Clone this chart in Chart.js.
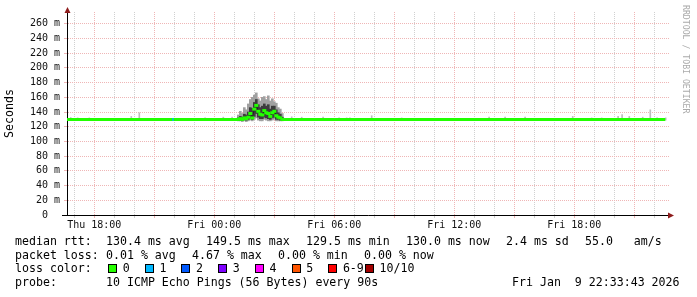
<!DOCTYPE html>
<html>
<head>
<meta charset="utf-8">
<script src="https://cdn.jsdelivr.net/npm/chart.js@4.4.1/dist/chart.umd.min.js"></script>
<style>
  html, body { margin: 0; padding: 0; background: #fff; }
  #wrap { position: relative; width: 697px; height: 297px; overflow: hidden; background: #fff; }
  #chart { position: absolute; left: 0; top: 0; }
  .txt {
    position: absolute;
    font-family: 'DejaVu Sans Mono', monospace;
    font-size: 11.6px;
    line-height: 14px;
    white-space: pre;
    color: #000;
  }
  .box { position: absolute; width: 7px; height: 7px; border: 1px solid #000; }
  #credit {
    position: absolute;
    left: 681px;
    top: 5px;
    writing-mode: vertical-rl;
    font-family: 'DejaVu Sans Mono', monospace;
    font-size: 8.2px;
    line-height: 10px;
    color: #aaa;
    white-space: pre;
  }
</style>
</head>
<body>
<div id="wrap">
  <canvas id="chart" width="697" height="297"></canvas>
  <div id="credit">RRDTOOL / TOBI OETIKER</div>
  <div id="legend"></div>
</div>
<script>
// hours counted from Thu 00:00
const dayNames = ['Thu', 'Fri'];
const hourMin = 16.635;
const hourMax = 46.735;

const baselineMs = 130;
const medianEdges = [16.635, 25.15, 27.45, 46.55];

const spikeHours = [25.2, 25.3, 25.4, 25.5, 25.6, 25.7, 25.8, 25.9, 26.0, 26.1, 26.2, 26.3,
                    26.4, 26.5, 26.6, 26.7, 26.8, 26.9, 27.0, 27.1, 27.2, 27.3, 27.4];
const spikeMedian = [130, 131, 130, 132, 131, 133, 138, 132, 144, 149, 141, 137,
                     136, 142, 139, 138, 134, 139, 141, 135, 133, 132, 130];
const smokeLow  = [128, 128, 127, 128, 127, 128, 129, 128, 130, 132, 129, 128,
                   128, 130, 129, 128, 128, 129, 130, 128, 128, 128, 128];
const smokeHigh = [136, 141, 138, 146, 143, 151, 157, 160, 163, 166, 158, 155,
                   160, 161, 157, 162, 155, 158, 154, 152, 146, 144, 138];
const coreLow   = [129, 129, 129, 130, 129, 130, 132, 130, 134, 138, 133, 131,
                   131, 133, 132, 131, 130, 132, 133, 130, 130, 129, 129];
const coreHigh  = [132, 134, 133, 137, 136, 140, 146, 145, 153, 157, 150, 146,
                   148, 151, 148, 150, 144, 148, 148, 143, 139, 137, 133];

const tickBase = 129;
const tickHours = [16.82, 17.17, 17.75, 19.85, 20.25, 23.54, 24.45, 24.89, 27.87, 28.37,
                   29.44, 30.24, 30.62, 30.78, 31.87, 33.37, 37.74, 38.54, 39.54, 41.92,
                   42.87, 43.37, 44.19, 44.39, 44.75, 45.42, 45.80, 46.14, 46.57];
const tickHigh  = [132.5, 132, 132, 134, 139, 132, 133, 133, 133.5, 133,
                   133, 132, 132, 132, 135, 132, 133, 133, 133, 134,
                   132, 132, 134, 136.5, 134, 133, 143, 132, 132];

const lossHours = [21.9, 21.97];
const lossMs = [130, 130];

const rttStats = [130.4, 149.5, 129.5, 130.0];
const rttNames = ['avg', 'max', 'min', 'now'];
const rttSd = 2.4;
const rttAmS = 55.0;
const lossStats = [0.01, 4.67, 0.00, 0.00];
const lossLabels = ['0', '1', '2', '3', '4', '5', '6-9', '10/10'];
const lossColors = ['#26ff00', '#00b8ff', '#0059ff', '#7e00ff', '#ff00ff', '#ff5500', '#ff0000', '#a10000'];

const green = '#22ff00';
const gridGray = '#d0d0d0';
const gridRed = '#efb6b6';
const arrowRed = '#8e1c1c';

const medianHours = [medianEdges[0], medianEdges[1]].concat(spikeHours, [medianEdges[2], medianEdges[3]]);
const medianMs = [baselineMs, baselineMs].concat(spikeMedian, [baselineMs, baselineMs]);

function inSpike(h) {
    return h >= spikeHours[0] - 0.001 && h <= spikeHours[spikeHours.length - 1] + 0.001;
}

function pairs(xs, ys) {
    return xs.map((x, i) => ({ x: x, y: ys[i] }));
}

const arrows = {
    id: 'arrows',
    afterDraw(chart) {
        const a = chart.chartArea;
        const ctx = chart.ctx;
        ctx.save();
        ctx.strokeStyle = '#000';
        ctx.lineWidth = 1;
        ctx.beginPath();
        ctx.moveTo(62, a.bottom + 0.5);
        ctx.lineTo(a.left, a.bottom + 0.5);
        ctx.stroke();
        ctx.fillStyle = arrowRed;
        ctx.beginPath();
        ctx.moveTo(a.left + 0.5, a.top - 5);
        ctx.lineTo(a.left - 2.5, a.top + 1);
        ctx.lineTo(a.left + 3.5, a.top + 1);
        ctx.closePath();
        ctx.fill();
        ctx.beginPath();
        ctx.moveTo(a.right + 5, a.bottom + 0.5);
        ctx.lineTo(a.right - 1, a.bottom - 2.5);
        ctx.lineTo(a.right - 1, a.bottom + 3.5);
        ctx.closePath();
        ctx.fill();
        ctx.restore();
    }
};

new Chart(document.getElementById('chart'), {
    type: 'line',
    data: {
        datasets: [
            {
                type: 'line',
                data: pairs(lossHours, lossMs),
                borderColor: lossColors[1],
                borderWidth: 3,
                pointRadius: 0,
                order: 0
            },
            {
                type: 'line',
                data: pairs(medianHours, medianMs),
                borderColor: green,
                borderWidth: 3,
                tension: 0,
                pointStyle: 'line',
                pointRadius: c => (c.raw && inSpike(c.raw.x)) ? 2 : 0,
                pointBorderColor: green,
                pointBorderWidth: 3,
                segment: {
                    borderColor: s => (inSpike(s.p0.parsed.x) && inSpike(s.p1.parsed.x)) ? 'rgba(30,30,30,0.85)' : green,
                    borderWidth: s => (inSpike(s.p0.parsed.x) && inSpike(s.p1.parsed.x)) ? 1 : 3
                },
                order: 1
            },
            {
                type: 'bar',
                data: spikeHours.map((h, i) => ({ x: h, y: [coreLow[i], coreHigh[i]] })),
                backgroundColor: '#3c3c3c',
                borderWidth: 0,
                barThickness: 2,
                grouped: false,
                order: 2
            },
            {
                type: 'bar',
                data: spikeHours.map((h, i) => ({ x: h, y: [smokeLow[i], smokeHigh[i]] })),
                backgroundColor: '#a0a0a0',
                borderWidth: 0,
                barThickness: 2,
                grouped: false,
                order: 3
            },
            {
                type: 'bar',
                data: tickHours.map((h, i) => ({ x: h, y: [tickBase, tickHigh[i]] })),
                backgroundColor: '#bdbdbd',
                borderWidth: 0,
                barThickness: 1,
                grouped: false,
                order: 4
            }
        ]
    },
    options: {
        responsive: false,
        animation: false,
        devicePixelRatio: 1,
        layout: { padding: { left: 0, right: 28, top: 12, bottom: 0 } },
        plugins: { legend: { display: false }, tooltip: { enabled: false } },
        scales: {
            x: {
                type: 'linear',
                min: hourMin,
                max: hourMax,
                offset: false,
                afterFit: s => { s.height = 82; },
                afterBuildTicks: s => {
                    const t = [];
                    for (let h = 17; h <= 46; h++) t.push({ value: h });
                    s.ticks = t;
                },
                grid: {
                    offset: false,
                    color: c => (c.tick && c.tick.value % 3 === 0) ? gridRed : gridGray,
                    tickColor: c => (c.tick && c.tick.value % 3 === 0) ? gridRed : gridGray,
                    tickLength: 3,
                    lineWidth: 1
                },
                border: { color: '#000', width: 1, dash: [1, 1] },
                ticks: {
                    autoSkip: false,
                    maxRotation: 0,
                    padding: 1,
                    color: '#111',
                    font: { family: 'DejaVu Sans Mono', size: 10 },
                    callback: v => {
                        if (v % 6 !== 0) return '';
                        const hh = String(v % 24).padStart(2, '0');
                        return dayNames[Math.floor(v / 24)] + ' ' + hh + ':00';
                    }
                }
            },
            y: {
                type: 'linear',
                min: 0,
                max: 276,
                afterFit: s => { s.width = 67; },
                afterBuildTicks: s => {
                    const t = [];
                    for (let v = 0; v <= 270; v += 10) t.push({ value: v });
                    s.ticks = t;
                },
                grid: {
                    color: c => (c.tick && c.tick.value % 20 === 0) ? gridRed : gridGray,
                    tickColor: c => (c.tick && c.tick.value % 20 === 0 && c.tick.value > 0) ? gridRed : 'rgba(0,0,0,0)',
                    tickLength: 3,
                    lineWidth: 1
                },
                border: { color: '#000', width: 1, dash: [1, 1] },
                title: {
                    display: true,
                    text: 'Seconds',
                    color: '#000',
                    padding: { top: 3, bottom: 0 },
                    font: { family: 'DejaVu Sans Mono', size: 11.6 }
                },
                ticks: {
                    padding: 4,
                    color: '#111',
                    font: { family: 'DejaVu Sans Mono', size: 10 },
                    callback: v => v % 20 !== 0 ? '' : (v === 0 ? '0  ' : v + ' m')
                }
            }
        }
    },
    plugins: [arrows]
});

// text legend under the graph
const legend = document.getElementById('legend');
const lineTops = [234, 247.5, 261.2, 274.5];

function put(text, x, line) {
    const d = document.createElement('div');
    d.className = 'txt';
    d.style.left = x + 'px';
    d.style.top = lineTops[line] + 'px';
    d.textContent = text;
    legend.appendChild(d);
}

put('median rtt:', 15, 0);
rttStats.forEach((v, i) => put(v.toFixed(1) + ' ms ' + rttNames[i], 106 + i * 100, 0));
put(rttSd.toFixed(1) + ' ms sd', 506, 0);
put(rttAmS.toFixed(1) + '   am/s', 585, 0);

put('packet loss:', 15, 1);
const lossX = [106, 192, 278, 364];
lossStats.forEach((v, i) => put(v.toFixed(2) + ' % ' + rttNames[i], lossX[i], 1));

put('loss color:', 15, 2);
lossLabels.forEach((lab, i) => {
    const left = 108 + i * 36.7;
    const b = document.createElement('div');
    b.className = 'box';
    b.style.left = left + 'px';
    b.style.top = '264px';
    b.style.background = lossColors[i];
    legend.appendChild(b);
    put(lab, left + 14.7, 2);
});

put('probe:', 15, 3);
put('10 ICMP Echo Pings (56 Bytes) every 90s', 106, 3);
put('Fri Jan  9 22:33:43 2026', 512, 3);
</script>
</body>
</html>
